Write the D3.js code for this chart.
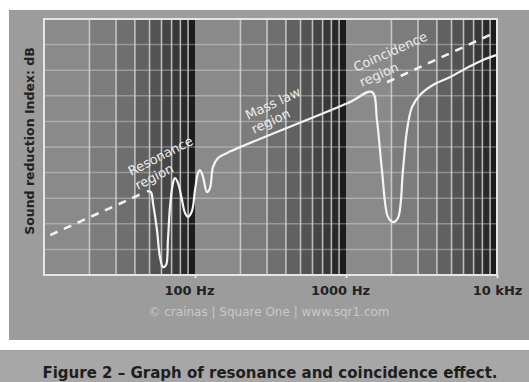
<!DOCTYPE html>
<html>
<head>
<meta charset="utf-8">
<script src="https://cdn.jsdelivr.net/npm/d3@7"></script>
<style>
  body { margin: 0; background: #fff; }
  svg { display: block; }
</style>
</head>
<body>
<div id="chart"></div>
<script>
// solid curve: sound reduction index vs frequency [Hz, dB]
const solidFreq = [48, 51, 52.7, 56, 58.6, 61.4, 64.3, 66.2, 68.3, 71.5, 73.7, 77.2, 82, 85.9, 89.9, 95.5,
  100, 104.7, 107.9, 113, 120, 125.7, 131.6, 142, 163, 1031, 1486, 1603, 1730, 1897, 2047, 2208, 2384,
  2535, 2736, 3090, 3767, 4886, 6324, 8072, 9841];
const solidDb = [32.8, 32.4, 28.1, 17.6, 7.0, 3.1, 3.9, 13.7, 26.6, 35.9, 37.9, 35.9, 29.3, 24.2, 22.7, 25.0,
  33.2, 39.8, 41.0, 38.3, 32.4, 34.0, 42.2, 45.7, 47.7, 67.2, 71.5, 60.5, 41.0, 22.7, 20.7, 22.3, 41.0,
  56.6, 65.6, 70.3, 74.2, 77.3, 80.9, 84.0, 85.9];

// dashed mass law line, shown below resonance and above coincidence
const massLawLowFreq = [11, 47];
const massLawLowDb = [15.6, 32.4];
const massLawHighFreq = [1870, 9550];
const massLawHighDb = [75.3, 94.5];

const decades = [10, 100, 1000];
const multipliers = [1, 2, 3, 4, 5, 6, 7, 8, 9];
const dbGrid = [10, 20, 30, 40, 50, 60, 70, 80, 90];
const tickFreqs = [100, 1000, 10000];
const tickLabels = ["100 Hz", "1000 Hz", "10 kHz"];

const W = 529, H = 382;
const plot = { left: 44, right: 497, top: 19, bottom: 275 };

const svg = d3.select("#chart").append("svg")
  .attr("width", W)
  .attr("height", H);

// outer panels
svg.append("rect").attr("x", 9).attr("y", 10).attr("width", W - 9).attr("height", 330).attr("fill", "#9c9c9c");
svg.append("rect").attr("x", 0).attr("y", 350).attr("width", W).attr("height", H - 350).attr("fill", "#a7a7a7");

const x = d3.scaleLog()
  .domain([10, 10000])
  .range([plot.left, plot.right]);

const y = d3.scaleLinear()
  .domain([0, 100])
  .range([plot.bottom, plot.top]);

const shade = d3.scaleLinear()
  .domain([1, 9])
  .range(["#8a8a8a", "#1c1c1c"])
  .interpolate(d3.interpolateRgb);

// darkening bands inside each decade
const bands = [];
decades.forEach(d => multipliers.forEach(m => bands.push({ from: m * d, to: (m + 1) * d, m: m })));

svg.append("g").selectAll("rect")
  .data(bands)
  .enter()
  .append("rect")
  .attr("x", d => x(d.from))
  .attr("y", plot.top)
  .attr("width", d => x(d.to) - x(d.from))
  .attr("height", plot.bottom - plot.top)
  .attr("fill", d => shade(d.m));

// horizontal grid
svg.append("g").selectAll("line")
  .data(dbGrid)
  .enter()
  .append("line")
  .attr("x1", plot.left).attr("x2", plot.right)
  .attr("y1", d => y(d)).attr("y2", d => y(d))
  .attr("stroke", "#fff")
  .attr("stroke-opacity", 0.3)
  .attr("stroke-width", 1.5);

// vertical grid lines (2..9 of every decade)
svg.append("g").selectAll("line")
  .data(bands.filter(b => b.m > 1))
  .enter()
  .append("line")
  .attr("x1", d => x(d.from)).attr("x2", d => x(d.from))
  .attr("y1", plot.top).attr("y2", plot.bottom)
  .attr("stroke", "#d6d6d6")
  .attr("stroke-opacity", 0.8)
  .attr("stroke-width", 1.6);

// frame
svg.append("rect")
  .attr("x", plot.left).attr("y", plot.top)
  .attr("width", plot.right - plot.left).attr("height", plot.bottom - plot.top)
  .attr("fill", "none")
  .attr("stroke", "#e6e6e6")
  .attr("stroke-width", 2);

// x axis labels
const xAxis = d3.axisBottom(x)
  .tickValues(tickFreqs)
  .tickFormat((d, i) => tickLabels[i])
  .tickSize(3)
  .tickPadding(8);

const ax = svg.append("g")
  .attr("transform", "translate(0," + plot.bottom + ")")
  .call(xAxis);
ax.select(".domain").remove();
ax.selectAll(".tick line").attr("stroke", "#e6e6e6").attr("stroke-width", 2);
ax.selectAll(".tick text")
  .attr("fill", "#222")
  .attr("dx", (d, i) => i < 2 ? -6 : 0)
  .style("font-family", "DejaVu Sans")
  .style("font-weight", "bold")
  .style("font-size", "13px");

// y axis title
svg.append("text")
  .attr("transform", "translate(34," + 141 + ") rotate(-90)")
  .attr("text-anchor", "middle")
  .attr("fill", "#222")
  .style("font-family", "DejaVu Sans")
  .style("font-weight", "bold")
  .style("font-size", "12.5px")
  .text("Sound reduction Index: dB");

// curves
const line = d3.line()
  .x(d => x(d[0]))
  .y(d => y(d[1]))
  .curve(d3.curveCatmullRom.alpha(0.5));

const dashed = [
  d3.zip(massLawLowFreq, massLawLowDb),
  d3.zip(massLawHighFreq, massLawHighDb)
];
svg.append("g").selectAll("path")
  .data(dashed)
  .enter()
  .append("path")
  .attr("d", d3.line().x(d => x(d[0])).y(d => y(d[1])))
  .attr("fill", "none")
  .attr("stroke", "#f2f2f2")
  .attr("stroke-width", 2.6)
  .attr("stroke-dasharray", "8,7");

svg.append("path")
  .datum(d3.zip(solidFreq, solidDb))
  .attr("d", line)
  .attr("fill", "none")
  .attr("stroke", "#f4f4f4")
  .attr("stroke-width", 2.2);

// region notes
const notes = [
  { text: "Resonance", x: 131, y: 176, a: -27 },
  { text: "region", x: 138, y: 190, a: -27 },
  { text: "Mass law", x: 248, y: 120, a: -25 },
  { text: "region", x: 254, y: 134, a: -25 },
  { text: "Coincidence", x: 356, y: 72, a: -24 },
  { text: "region", x: 362, y: 87, a: -24 }
];
svg.append("g").selectAll("text")
  .data(notes)
  .enter()
  .append("text")
  .attr("transform", d => "translate(" + d.x + "," + d.y + ") rotate(" + d.a + ")")
  .attr("fill", "#ececec")
  .style("font-family", "DejaVu Sans")
  .style("font-size", "13px")
  .text(d => d.text);

// credit
svg.append("text")
  .attr("x", 269).attr("y", 316)
  .attr("text-anchor", "middle")
  .attr("fill", "#c9c9c9")
  .style("font-family", "DejaVu Sans")
  .style("font-size", "12px")
  .text("\u00a9 crainas | Square One | www.sqr1.com");

// caption
svg.append("text")
  .attr("x", 270).attr("y", 378)
  .attr("text-anchor", "middle")
  .attr("fill", "#1e1e1e")
  .style("font-family", "DejaVu Sans")
  .style("font-weight", "bold")
  .style("font-size", "15px")
  .text("Figure 2 \u2013 Graph of resonance and coincidence effect.");
</script>
</body>
</html>
